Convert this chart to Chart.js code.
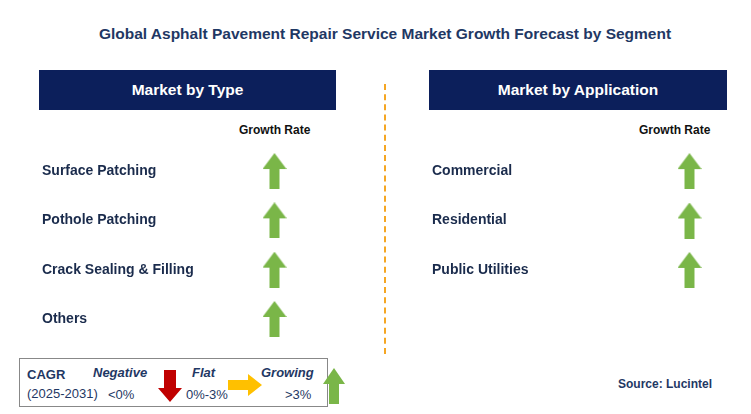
<!DOCTYPE html>
<html><head><meta charset="utf-8">
<script src="https://cdn.jsdelivr.net/npm/chart.js@4"></script>
<style>
  body{margin:0;background:#fff;font-family:"Liberation Sans",Arial,sans-serif;}
  #wrap{position:relative;width:751px;height:414px;overflow:hidden;}
  .abs{position:absolute;}
  .title{left:0;width:770px;top:25px;text-align:center;font-weight:bold;font-size:15.5px;color:#1f3864;}
  .hdr{background:#0c1f5b;color:#fff;font-weight:bold;font-size:15.5px;text-align:center;line-height:40px;height:40px;}
  .gr{font-weight:bold;font-size:12px;color:#111;}
  .dash{left:384px;top:84px;height:270px;border-left:2px dashed #f5a623;}
  .legend{left:19px;top:358px;width:307px;height:47px;border:1px solid #888;font-size:13px;color:#1f3864;}
  .legend span{position:absolute;white-space:nowrap;}
</style></head>
<body><div id="wrap">
  <div class="abs title">Global Asphalt Pavement Repair Service Market Growth Forecast by Segment</div>
  <div class="abs hdr" style="left:39px;top:70px;width:297px;">Market by Type</div>
  <div class="abs hdr" style="left:429px;top:70px;width:298px;">Market by Application</div>
  <div class="abs gr" style="left:239px;top:123px;">Growth Rate</div>
  <div class="abs gr" style="left:639px;top:123px;">Growth Rate</div>
  <div class="abs dash"></div>
  <div class="abs" style="left:42px;top:138px;width:270px;height:214px;"><canvas id="typeChart"></canvas></div>
  <div class="abs" style="left:432px;top:138px;width:300px;height:165px;"><canvas id="appChart"></canvas></div>
  <div class="abs legend">
    <span style="left:7px;top:8px;font-weight:bold;">CAGR</span>
    <span style="left:7px;top:27px;">(2025-2031)</span>
    <span style="left:73px;top:6px;font-weight:bold;font-style:italic;">Negative</span>
    <span style="left:88px;top:28px;">&lt;0%</span>
    <svg style="position:absolute;left:138px;top:11px" width="24" height="32"><polygon points="6,0 18,0 18,18 24,18 12,32 0,18 6,18" fill="#c00000"/></svg>
    <span style="left:172px;top:6px;font-weight:bold;font-style:italic;">Flat</span>
    <span style="left:166px;top:28px;">0%-3%</span>
    <svg style="position:absolute;left:208px;top:15px" width="34" height="22"><polygon points="0,6 20,6 20,0 34,11 20,22 20,16 0,16" fill="#ffc000"/></svg>
    <span style="left:241px;top:6px;font-weight:bold;font-style:italic;">Growing</span>
    <span style="left:265px;top:28px;">&gt;3%</span>
    <svg style="position:absolute;left:303px;top:9px" width="22" height="36"><polygon points="11,0 22,16 16,16 16,36 6,36 6,16 0,16" fill="#7ab648"/></svg>
  </div>
  <div class="abs" style="left:618px;top:377px;font-weight:bold;font-size:12px;color:#1f3864;">Source: Lucintel</div>
</div>
<script>
  // Segment data
  const typeSegments = ['Surface Patching', 'Pothole Patching', 'Crack Sealing & Filling', 'Others'];
  const typeGrowth = ['Growing', 'Growing', 'Growing', 'Growing'];
  const appSegments = ['Commercial', 'Residential', 'Public Utilities'];
  const appGrowth = ['Growing', 'Growing', 'Growing'];
  const growthColumn = ['Growth Rate'];

  function makeArrow() {
    const c = document.createElement('canvas');
    c.width = 24; c.height = 36;
    const g = c.getContext('2d');
    g.fillStyle = '#7ab648';
    g.beginPath();
    g.moveTo(12, 0); g.lineTo(24, 16); g.lineTo(17, 16); g.lineTo(17, 36);
    g.lineTo(7, 36); g.lineTo(7, 16); g.lineTo(0, 16); g.closePath();
    g.fill();
    return c;
  }
  const arrow = makeArrow();

  function buildChart(id, segments, growth, axisWidth) {
    new Chart(document.getElementById(id), {
      type: 'scatter',
      data: {
        datasets: [{
          data: segments.map((s, i) => ({ x: growthColumn[0], y: s, g: growth[i] })),
          pointStyle: arrow
        }]
      },
      options: {
        responsive: true,
        maintainAspectRatio: false,
        animation: false,
        layout: { padding: 0 },
        plugins: { legend: { display: false }, tooltip: { enabled: false } },
        scales: {
          x: { type: 'category', labels: growthColumn, offset: true, display: false },
          y: {
            type: 'category', labels: segments, offset: true,
            grid: { display: false }, border: { display: false },
            afterFit: function (s) { s.width = axisWidth; },
            ticks: {
              crossAlign: 'far', padding: 0,
              color: '#1a2b4c',
              font: { family: 'Liberation Sans', size: 14, weight: 'bold' }
            }
          }
        }
      }
    });
  }

  buildChart('typeChart', typeSegments, typeGrowth, 200);
  buildChart('appChart', appSegments, appGrowth, 220);
</script>
</body></html>
